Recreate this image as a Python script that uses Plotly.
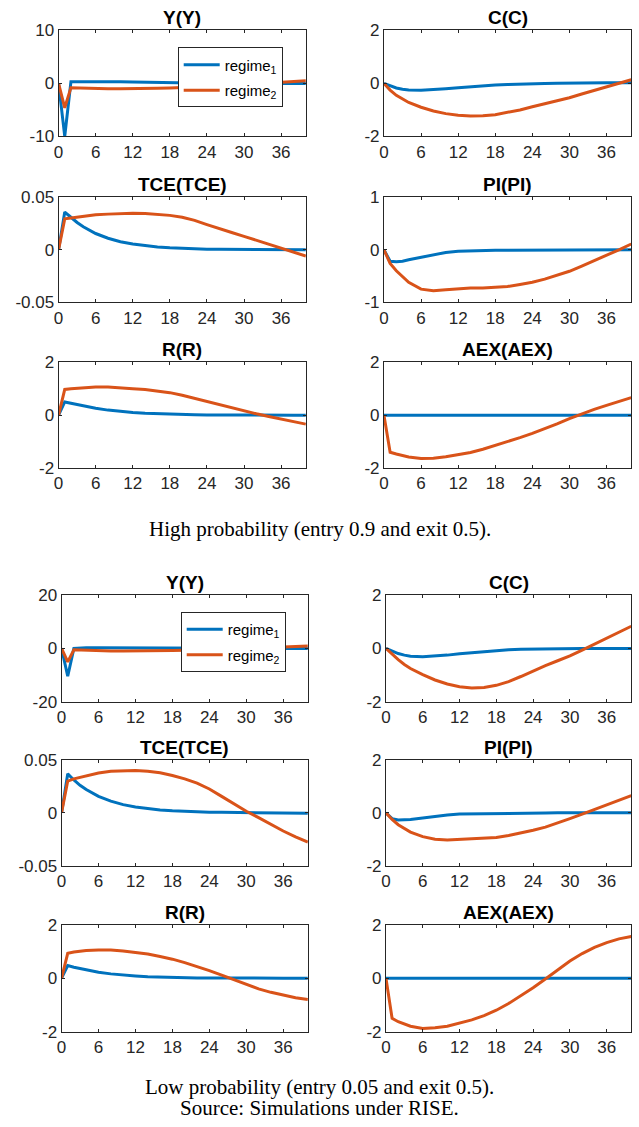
import plotly.graph_objects as go

W, H = 639, 1127

# horizon points (quarters)
XS = [0, 1, 2, 3, 4, 6, 8, 10, 12, 14, 16, 18, 20, 22, 24, 26, 28, 30, 32, 34, 36, 38, 40]
XTICKS = [0, 6, 12, 18, 24, 30, 36]

# ---- High probability (entry 0.9, exit 0.5) ----
hi_Y_r1 = [0, -10, 0.3, 0.3, 0.3, 0.4, 0.35, 0.3, 0.25, 0.2, 0.2, 0.15, 0.1, 0.1, 0.05, 0.05, 0, 0, 0, 0, 0, 0, 0]
hi_Y_r2 = [0, -4.6, -0.8, -0.85, -0.9, -1.0, -1.0, -1.0, -1.0, -0.95, -0.9, -0.85, -0.8, -0.7, -0.6, -0.5, -0.35, -0.2, -0.05, 0.1, 0.25, 0.4, 0.5]
hi_C_r1 = [0, -0.1, -0.17, -0.22, -0.25, -0.26, -0.24, -0.2, -0.16, -0.12, -0.09, -0.06, -0.04, -0.02, -0.01, 0, 0.01, 0.02, 0.02, 0.03, 0.03, 0.03, 0.03]
hi_C_r2 = [0, -0.25, -0.45, -0.6, -0.72, -0.9, -1.04, -1.14, -1.2, -1.23, -1.22, -1.18, -1.1, -1.0, -0.88, -0.77, -0.66, -0.54, -0.4, -0.26, -0.11, 0.02, 0.14]
hi_TCE_r1 = [0, 0.036, 0.031, 0.026, 0.022, 0.0155, 0.011, 0.0077, 0.0055, 0.0039, 0.0027, 0.0019, 0.0013, 0.0009, 0.0006, 0.0004, 0.0003, 0.0002, 0.0001, 0, 0, 0, 0]
hi_TCE_r2 = [0, 0.0295, 0.0302, 0.031, 0.032, 0.0335, 0.034, 0.0345, 0.0348, 0.0345, 0.034, 0.0328, 0.031, 0.028, 0.024, 0.020, 0.0165, 0.0128, 0.009, 0.0048, 0.001, -0.0027, -0.006]
hi_PI_r1 = [0, -0.22, -0.23, -0.22, -0.19, -0.14, -0.09, -0.05, -0.03, -0.02, -0.015, -0.01, -0.01, -0.01, -0.01, -0.005, 0, 0, 0, 0, 0, 0, 0]
hi_PI_r2 = [0, -0.26, -0.4, -0.52, -0.62, -0.75, -0.78, -0.76, -0.74, -0.73, -0.73, -0.72, -0.7, -0.66, -0.62, -0.56, -0.49, -0.41, -0.31, -0.21, -0.1, 0.0, 0.11]
hi_R_r1 = [0, 0.5, 0.45, 0.4, 0.35, 0.26, 0.19, 0.14, 0.1, 0.07, 0.05, 0.035, 0.025, 0.015, 0.01, 0.005, 0, 0, 0, 0, 0, 0, 0]
hi_R_r2 = [0, 0.97, 1.0, 1.02, 1.04, 1.06, 1.06, 1.04, 1.0, 0.97, 0.92, 0.85, 0.75, 0.63, 0.51, 0.39, 0.27, 0.16, 0.05, -0.05, -0.14, -0.24, -0.34]
hi_AEX_r1 = [0, 0, 0, 0, 0, 0, 0, 0, 0, 0, 0, 0, 0, 0, 0, 0, 0, 0, 0, 0, 0, 0, 0]
hi_AEX_r2 = [0, -1.4, -1.47, -1.53, -1.58, -1.64, -1.63, -1.57, -1.5, -1.41, -1.29, -1.15, -1.0, -0.85, -0.69, -0.52, -0.33, -0.13, 0.06, 0.22, 0.37, 0.52, 0.66]

# ---- Low probability (entry 0.05, exit 0.5) ----
lo_Y_r1 = [0, -10.4, 0, 0.2, 0.3, 0.3, 0.3, 0.3, 0.3, 0.25, 0.2, 0.2, 0.15, 0.1, 0.1, 0.05, 0.05, 0, 0, 0, 0, 0, 0]
lo_Y_r2 = [0, -5, -0.5, -0.6, -0.7, -0.9, -1.0, -1.0, -1.0, -0.95, -0.9, -0.8, -0.7, -0.6, -0.5, -0.35, -0.2, 0.0, 0.2, 0.4, 0.6, 0.8, 0.9]
lo_C_r1 = [0, -0.1, -0.19, -0.25, -0.29, -0.31, -0.29, -0.25, -0.2, -0.16, -0.12, -0.08, -0.05, -0.03, -0.02, -0.01, 0, 0, 0, 0, 0, 0, 0]
lo_C_r2 = [0, -0.22, -0.42, -0.6, -0.75, -0.98, -1.18, -1.33, -1.43, -1.48, -1.46, -1.38, -1.24, -1.05, -0.83, -0.64, -0.46, -0.28, -0.06, 0.17, 0.4, 0.62, 0.83]
lo_TCE_r1 = [0, 0.0368, 0.031, 0.026, 0.022, 0.0155, 0.011, 0.0077, 0.0055, 0.0039, 0.0027, 0.0019, 0.0013, 0.0009, 0.0006, 0.0004, 0.0002, 0, -0.0003, -0.0004, -0.0005, -0.0005, -0.0005]
lo_TCE_r2 = [0, 0.030, 0.032, 0.0335, 0.035, 0.0375, 0.0393, 0.04, 0.04, 0.0392, 0.0378, 0.0352, 0.032, 0.028, 0.0225, 0.0155, 0.0085, 0.0015, -0.0045, -0.011, -0.0172, -0.0228, -0.0276]
lo_PI_r1 = [0, -0.22, -0.27, -0.27, -0.25, -0.2, -0.13, -0.08, -0.05, -0.04, -0.03, -0.02, -0.02, -0.01, -0.01, -0.005, 0, 0, 0, 0, 0, 0, 0]
lo_PI_r2 = [0, -0.25, -0.45, -0.6, -0.73, -0.9, -1.0, -1.03, -1.01, -0.99, -0.97, -0.93, -0.86, -0.77, -0.66, -0.54, -0.39, -0.22, -0.05, 0.12, 0.31, 0.48, 0.65]
lo_R_r1 = [0, 0.47, 0.41, 0.36, 0.31, 0.22, 0.16, 0.11, 0.08, 0.05, 0.035, 0.025, 0.015, 0.01, 0.005, 0, 0, 0, 0, 0, 0, 0, 0]
lo_R_r2 = [0, 0.93, 0.98, 1.01, 1.03, 1.05, 1.05, 1.02, 0.97, 0.9, 0.81, 0.71, 0.58, 0.44, 0.28, 0.11, -0.06, -0.24, -0.4, -0.53, -0.64, -0.73, -0.8]
lo_AEX_r1 = [0, 0, 0, 0, 0, 0, 0, 0, 0, 0, 0, 0, 0, 0, 0, 0, 0, 0, 0, 0, 0, 0, 0]
lo_AEX_r2 = [0, -1.5, -1.63, -1.72, -1.8, -1.88, -1.86, -1.8, -1.69, -1.56, -1.4, -1.2, -0.95, -0.67, -0.36, -0.03, 0.32, 0.64, 0.92, 1.15, 1.33, 1.47, 1.56]

hi_titles = ["Y(Y)", "C(C)", "TCE(TCE)", "PI(PI)", "R(R)", "AEX(AEX)"]
lo_titles = ["Y(Y)", "C(C)", "TCE(TCE)", "PI(PI)", "R(R)", "AEX(AEX)"]
hi_yticks = [[-10, 0, 10], [-2, 0, 2], [-0.05, 0, 0.05], [-1, 0, 1], [-2, 0, 2], [-2, 0, 2]]
lo_yticks = [[-20, 0, 20], [-2, 0, 2], [-0.05, 0, 0.05], [-2, 0, 2], [-2, 0, 2], [-2, 0, 2]]
legend_names = ["regime<sub>1</sub>", "regime<sub>2</sub>"]
captions = [
    ("High probability (entry 0.9 and exit 0.5).", 529),
    ("Low probability (entry 0.05 and exit 0.5).", 1087),
    ("Source: Simulations under RISE.", 1108),
]

hi_r1 = [hi_Y_r1, hi_C_r1, hi_TCE_r1, hi_PI_r1, hi_R_r1, hi_AEX_r1]
hi_r2 = [hi_Y_r2, hi_C_r2, hi_TCE_r2, hi_PI_r2, hi_R_r2, hi_AEX_r2]
lo_r1 = [lo_Y_r1, lo_C_r1, lo_TCE_r1, lo_PI_r1, lo_R_r1, lo_AEX_r1]
lo_r2 = [lo_Y_r2, lo_C_r2, lo_TCE_r2, lo_PI_r2, lo_R_r2, lo_AEX_r2]

BLUE = "#0072BD"
ORANGE = "#D95319"
AX = "#262626"
SANS = "Liberation Sans, Arial, sans-serif"
SERIF = "Liberation Serif, Times New Roman, serif"


# layout helpers: map target pixel positions to paper coordinates
def fx(px):
    return (px - 5.5) / 0.991


def fy(py):
    return (py - 8.5) / 0.984


def paper_x(px):
    return fx(px) / W


def paper_y(py):
    return 1 - fy(py) / H


groups = [
    dict(cols=[(59, 306), (384, 631)], rows=[(30, 136), (197, 302), (362, 468)],
         titles=hi_titles, yt=hi_yticks, r1=hi_r1, r2=hi_r2, legend="legend"),
    dict(cols=[(62, 308), (386, 631)], rows=[(595, 702), (760, 866), (925, 1032)],
         titles=lo_titles, yt=lo_yticks, r1=lo_r1, r2=lo_r2, legend="legend2"),
]

fig = go.Figure()
layout = {}
annotations = []
n = 0
for g in groups:
    for k in range(6):
        n += 1
        r, c = divmod(k, 2)
        x0, x1 = g["cols"][c]
        t, b = g["rows"][r]
        xa = "x" if n == 1 else f"x{n}"
        ya = "y" if n == 1 else f"y{n}"
        xkey = "xaxis" if n == 1 else f"xaxis{n}"
        ykey = "yaxis" if n == 1 else f"yaxis{n}"
        common = dict(showline=True, linecolor=AX, linewidth=1, mirror="ticks",
                      ticks="inside", ticklen=3, tickcolor=AX, tickwidth=1,
                      showgrid=False, zeroline=False,
                      tickfont=dict(family=SANS, size=17, color=AX))
        yt = g["yt"][k]
        layout[xkey] = dict(common, domain=[paper_x(x0), paper_x(x1)], anchor=ya,
                            range=[0, 40], tickvals=XTICKS,
                            ticktext=[str(v) for v in XTICKS])
        layout[ykey] = dict(common, domain=[paper_y(b), paper_y(t)], anchor=xa,
                            range=[yt[0], yt[-1]], tickvals=yt,
                            ticktext=[f"{v:g}" for v in yt])
        show = (k == 0)
        fig.add_trace(go.Scatter(x=XS, y=g["r1"][k], mode="lines",
                                 line=dict(color=BLUE, width=3),
                                 name=legend_names[0], showlegend=show,
                                 legendgroup="a", legend=g["legend"],
                                 xaxis=xa, yaxis=ya))
        fig.add_trace(go.Scatter(x=XS, y=g["r2"][k], mode="lines",
                                 line=dict(color=ORANGE, width=3),
                                 name=legend_names[1], showlegend=show,
                                 legendgroup="b", legend=g["legend"],
                                 xaxis=xa, yaxis=ya))
        annotations.append(dict(text=f"<b>{g['titles'][k]}</b>",
                                x=(paper_x(x0) + paper_x(x1)) / 2,
                                y=paper_y(t), xref="paper", yref="paper",
                                xanchor="center", yanchor="bottom", yshift=0,
                                showarrow=False,
                                font=dict(family=SANS, size=19, color="black")))

for txt, py in captions:
    annotations.append(dict(text=txt, x=paper_x(320), y=paper_y(py),
                            xref="paper", yref="paper",
                            xanchor="center", yanchor="middle", showarrow=False,
                            font=dict(family=SERIF, size=21, color="black")))

leg_style = dict(bgcolor="white", bordercolor=AX, borderwidth=1,
                 font=dict(family=SANS, size=15, color="black"),
                 xanchor="left", yanchor="top", tracegroupgap=3, itemwidth=36)
layout["legend"] = dict(leg_style, x=paper_x(178), y=paper_y(47))
layout["legend2"] = dict(leg_style, x=paper_x(181), y=paper_y(612))

fig.update_layout(width=W, height=H, margin=dict(l=0, r=0, t=0, b=0),
                  paper_bgcolor="white", plot_bgcolor="white",
                  annotations=annotations, **layout)
fig.write_html("out.html")
